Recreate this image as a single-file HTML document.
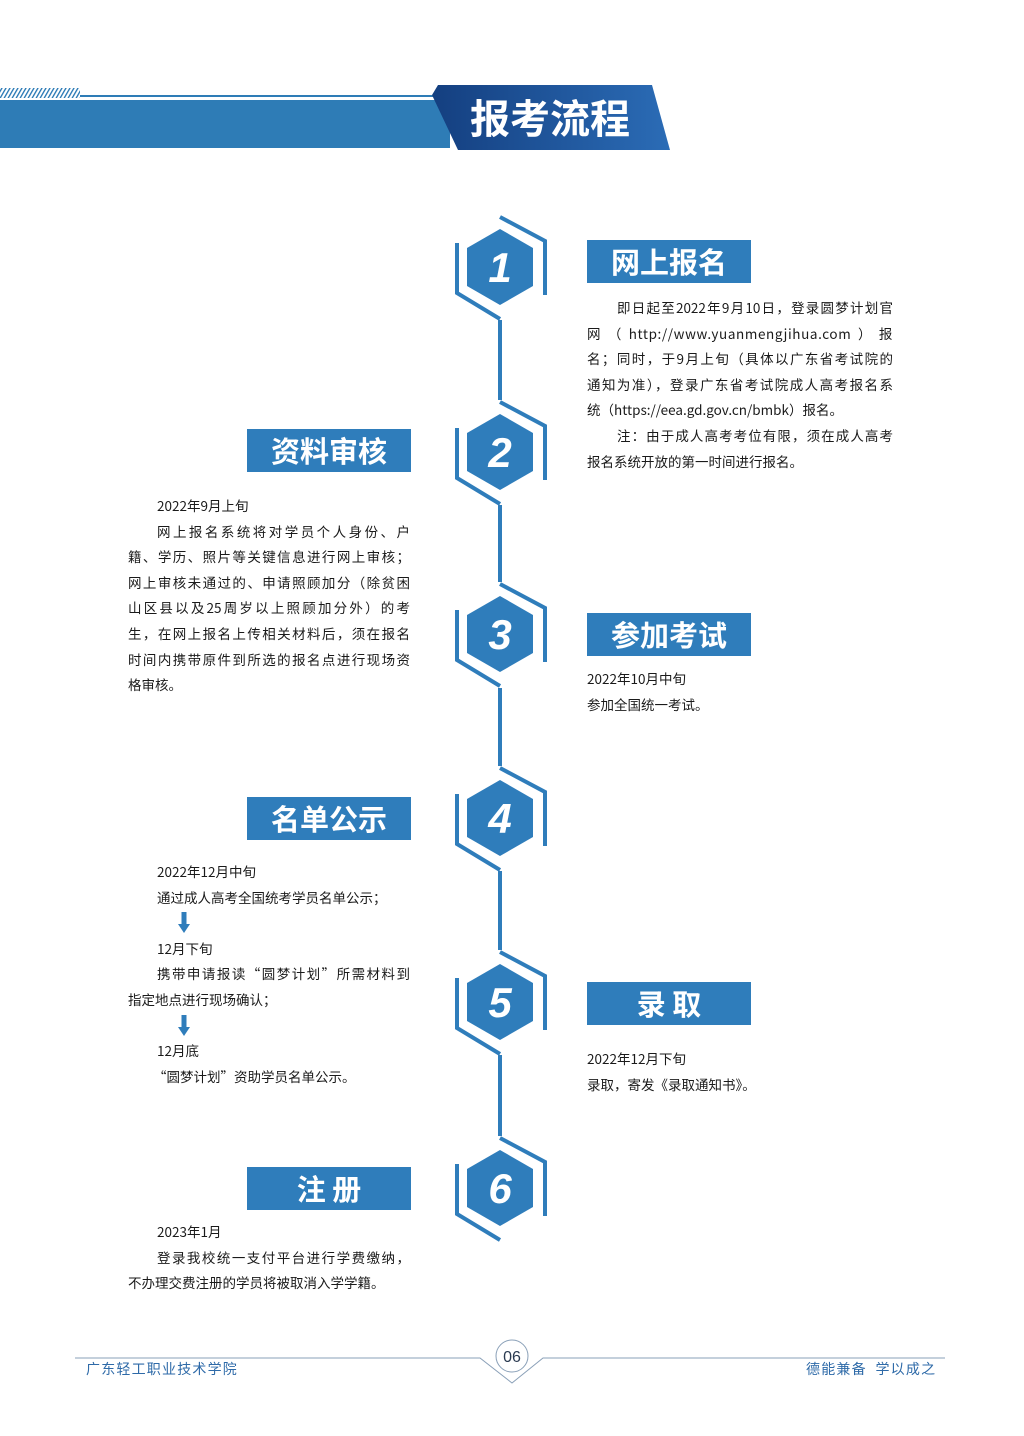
<!DOCTYPE html>
<html><head><meta charset="utf-8"><style>
*{margin:0;padding:0;box-sizing:border-box}
body{width:1024px;height:1436px;background:#fff;position:relative;overflow:hidden;font-family:"Noto Sans CJK SC",sans-serif;color:#1a1a1a}
.box{position:absolute;background:#2f7dbb;color:#fff;font-weight:bold;font-size:29px;text-align:center;height:43px;line-height:43px;width:164px;font-family:"Noto Sans CJK SC",sans-serif}
.t{position:absolute;font-size:13.5px;line-height:25.6px;white-space:nowrap}
.j{text-align:justify;text-align-last:justify;white-space:normal}
.t div{height:25.6px;overflow:visible}
.ft{position:absolute;font-size:14px;color:#2e6aa8;top:1360px;letter-spacing:1.2px;line-height:18px}
</style></head><body>
<svg width="1024" height="1436" style="position:absolute;left:0;top:0">
<defs><linearGradient id="g" x1="0" x2="1"><stop offset="0" stop-color="#143f80"/><stop offset="1" stop-color="#2b6cb6"/></linearGradient>
<pattern id="st" width="4" height="12" patternUnits="userSpaceOnUse" patternTransform="skewX(-30)"><rect width="1.6" height="12" fill="#2e7cb6"/></pattern></defs>
<rect x="0" y="88" width="80" height="10" fill="url(#st)"/>
<rect x="80" y="95" width="360" height="2" fill="#2e7cb6"/>
<rect x="0" y="100" width="450" height="48" fill="#2e7cb6"/>
<path d="M438 85 L652 85 L670 150 L458 150 L432 95 Z" fill="url(#g)"/>
<text x="470" y="133" font-size="40" font-weight="bold" fill="#fff" font-family="Noto Sans CJK SC,sans-serif">报考流程</text>
<g fill="none" stroke="#2f7dbb" stroke-width="4">
<path d="M500 320 V400 M500 505 V582 M500 688 V766 M500 871 V950 M500 1055 V1136"/>
</g>
<g id="hx"></g>
</svg>
<script>
var cs=[267,452,634,818,1002,1188],s='';
cs.forEach(function(c,i){
s+='<path d="M500 '+(c-38)+' L533 '+(c-19)+' L533 '+(c+19)+' L500 '+(c+38)+' L467 '+(c+19)+' L467 '+(c-19)+' Z" fill="#2f7dbb"/>';
s+='<path d="M500 '+(c-50)+' L545 '+(c-26)+' L545 '+(c+28)+' M457 '+(c-24)+' L457 '+(c+26)+' L500 '+(c+52)+'" fill="none" stroke="#2f7dbb" stroke-width="4"/>';
s+='<text x="500" y="'+(c+15)+'" text-anchor="middle" font-size="42" font-weight="bold" font-style="italic" fill="#fff" font-family="Liberation Sans,sans-serif">'+(i+1)+'</text>';
});
document.getElementById('hx').innerHTML=s;
</script>
<div class="box" style="left:587px;top:240px">网上报名</div>
<div class="box" style="left:247px;top:429px">资料审核</div>
<div class="box" style="left:587px;top:613px">参加考试</div>
<div class="box" style="left:247px;top:797px">名单公示</div>
<div class="box" style="left:587px;top:982px">录 取</div>
<div class="box" style="left:247px;top:1167px">注 册</div>

<div class="t" style="left:587px;top:295px;width:306px">
<div class="j" style="padding-left:30px">即日起至2022年9月10日，登录圆梦计划官</div>
<div class="j" style="letter-spacing:0.6px">网（http://www.yuanmengjihua.com）报</div>
<div class="j">名；同时，于9月上旬（具体以广东省考试院的</div>
<div class="j">通知为准），登录广东省考试院成人高考报名系</div>
<div>统（https://eea.gd.gov.cn/bmbk）报名。</div>
<div class="j" style="padding-left:30px">注：由于成人高考考位有限，须在成人高考</div>
<div>报名系统开放的第一时间进行报名。</div>
</div>

<div class="t" style="left:128px;top:493px;width:282px">
<div style="padding-left:29px">2022年9月上旬</div>
<div class="j" style="padding-left:29px">网上报名系统将对学员个人身份、户</div>
<div class="j">籍、学历、照片等关键信息进行网上审核；</div>
<div class="j">网上审核未通过的、申请照顾加分（除贫困</div>
<div class="j">山区县以及25周岁以上照顾加分外）的考</div>
<div class="j">生，在网上报名上传相关材料后，须在报名</div>
<div class="j">时间内携带原件到所选的报名点进行现场资</div>
<div>格审核。</div>
</div>

<div class="t" style="left:587px;top:666px">
<div>2022年10月中旬</div>
<div>参加全国统一考试。</div>
</div>

<div class="t" style="left:128px;top:859px;width:282px">
<div style="padding-left:29px">2022年12月中旬</div>
<div style="padding-left:29px">通过成人高考全国统考学员名单公示；</div>
<div style="padding-left:50px"><svg width="12" height="22" style="margin-top:2px"><rect x="3.5" y="0" width="5" height="13" fill="#2f7dbb"/><path d="M0 12 L12 12 L6 21Z" fill="#2f7dbb"/></svg></div>
<div style="padding-left:29px">12月下旬</div>
<div class="j" style="padding-left:29px">携带申请报读“圆梦计划”所需材料到</div>
<div>指定地点进行现场确认；</div>
<div style="padding-left:50px"><svg width="12" height="22" style="margin-top:2px"><rect x="3.5" y="0" width="5" height="13" fill="#2f7dbb"/><path d="M0 12 L12 12 L6 21Z" fill="#2f7dbb"/></svg></div>
<div style="padding-left:29px">12月底</div>
<div style="padding-left:25px">“圆梦计划”资助学员名单公示。</div>
</div>

<div class="t" style="left:587px;top:1046px">
<div>2022年12月下旬</div>
<div>录取，寄发《录取通知书》。</div>
</div>

<div class="t" style="left:128px;top:1219px;width:282px">
<div style="padding-left:29px">2023年1月</div>
<div class="j" style="padding-left:29px">登录我校统一支付平台进行学费缴纳，</div>
<div>不办理交费注册的学员将被取消入学学籍。</div>
</div>

<svg width="1024" height="1436" style="position:absolute;left:0;top:0;pointer-events:none">
<path d="M75 1358 H480 L512 1383 L543 1358 H945" fill="none" stroke="#8aa0b8" stroke-width="1"/>
<circle cx="512" cy="1356" r="16" fill="#fff" stroke="#8aa0b8" stroke-width="1"/>
<text x="512" y="1362" text-anchor="middle" font-size="16" fill="#2a3a50" font-family="Liberation Sans,sans-serif">06</text>
</svg>
<div class="ft" style="left:86px">广东轻工职业技术学院</div>
<div class="ft" style="left:806px">德能兼备&nbsp;&nbsp;学以成之</div>
</body></html>
